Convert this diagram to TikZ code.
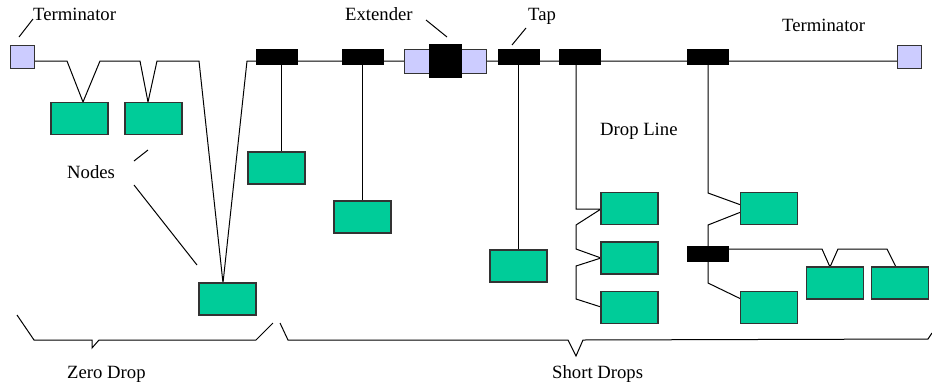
\documentclass[tikz,border=0pt]{standalone}
\usepackage{fontspec}
\setmainfont{Liberation Serif}
\begin{document}
\begin{tikzpicture}[x=1pt,y=-1pt,
  wire/.style={draw=black,line width=1pt},
  station/.style={draw=black!80,line width=1.2pt,fill={rgb,255:red,0;green,204;blue,153},minimum width=57pt,minimum height=32pt,inner sep=0pt},
  tapbox/.style={draw=black,fill=black,minimum width=41pt,minimum height=15pt,inner sep=0pt},
  termbox/.style={draw=black!80,line width=1pt,fill={rgb,255:red,204;green,204;blue,255},minimum width=24pt,minimum height=23pt,inner sep=0pt},
  lbl/.style={anchor=base west,inner sep=0pt,font=\fontsize{18.7}{22}\selectfont}]
\useasboundingbox (0,0) rectangle (932,389);
% coordinates on wires
\coordinate (tl) at (34,61);
\coordinate (tr) at (897,61);
% trunk
\draw[wire] (tl) -- (67,61) -- (83,102) -- (100,61) -- (140,61) -- (148,102) -- (157,61) -- (199,61) -- (223,283) -- (247,61) -- (tr);
% drops
\draw[wire] (281,61) -- (281,152);
\draw[wire] (362,61) -- (362,201);
\draw[wire] (518,61) -- (518,250);
\draw[wire] (576,61) -- (576,209) -- (601,209) -- (576,225) -- (576,249) -- (601,258) -- (576,266) -- (576,299) -- (601,307);
\draw[wire] (708,61) -- (708,193) -- (741,205);
\draw[wire] (741,212) -- (708,225) -- (708,283) -- (741,299);
\draw[wire] (708,249) -- (822,249) -- (830,267) -- (838,249) -- (887,249) -- (896,267);
% terminators
\node[termbox] (TL) at (22,56.5) {};
\node[termbox] (TR) at (909,56.5) {};
% taps
\node[tapbox] (tap1) at (276.5,56.5) {};
\node[tapbox] (tap2) at (362.5,56.5) {};
\node[tapbox] (tap3) at (518.5,56.5) {};
\node[tapbox] (tap4) at (580,56.5) {};
\node[tapbox] (tap5) at (707.5,56.5) {};
\node[tapbox] (tap6) at (707.5,254) {};
% extender
\node[termbox,minimum width=26pt,minimum height=24pt] (exl) at (417,61) {};
\node[termbox,minimum width=25pt,minimum height=24pt] (exr) at (473.5,61) {};
\node[tapbox,minimum width=32pt,minimum height=33pt] (exm) at (445,60.5) {};
% stations
\node[station] (n1) at (79.5,118.5) {};
\node[station] (n2) at (153.5,118.5) {};
\node[station] (n3) at (276.5,168) {};
\node[station] (n4) at (227.5,299) {};
\node[station] (n5) at (362.5,217) {};
\node[station] (n6) at (518.5,266) {};
\node[station] (n7) at (629.5,208.5) {};
\node[station] (n8) at (629.5,258) {};
\node[station] (n9) at (629.5,307.5) {};
\node[station] (n10) at (769,208.5) {};
\node[station] (n11) at (769,307.5) {};
\node[station] (n12) at (835,283) {};
\node[station] (n13) at (900,283) {};
% labels
\node[lbl] (lt1) at (33,20) {Terminator};
\node[lbl] (lnodes) at (67,178) {Nodes};
\node[lbl] (lext) at (345,20.5) {Extender};
\node[lbl] (ltap) at (528,20) {Tap};
\node[lbl] (lt2) at (782,31.5) {Terminator};
\node[lbl] (ldrop) at (600,135) {Drop Line};
\node[lbl] (lzero) at (67,378) {Zero Drop};
\node[lbl] (lshort) at (552,378) {Short Drops};
% leader lines
\draw[wire] (19,37) -- (33,19);
\draw[wire] (134,161) -- (148,150);
\draw[wire] (134,185) -- (197,265);
\draw[wire] (426,20) -- (447,37);
\draw[wire] (512,45) -- (526,28);
% braces
\draw[wire] (17,315) -- (34,340) -- (92,340) -- (92,348) -- (99,340) -- (256,340) -- (273,323);
\draw[wire] (280,323) -- (288,340) -- (568,340) -- (576,356) -- (583,340) -- (928,339) -- (932,333);
\end{tikzpicture}
\end{document}
